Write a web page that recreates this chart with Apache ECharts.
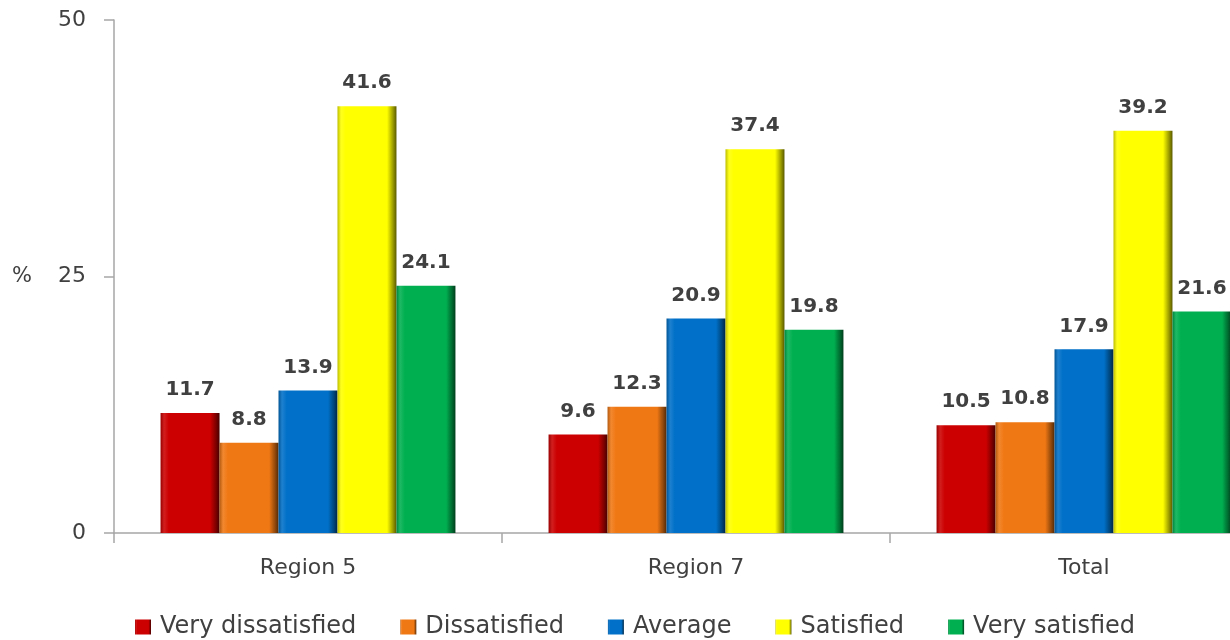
<!DOCTYPE html>
<html>
<head>
<meta charset="utf-8">
<style>
  html, body { margin: 0; padding: 0; background: #ffffff; }
  #chart { width: 1230px; height: 640px; }
</style>
<script src="https://cdn.jsdelivr.net/npm/echarts@6/dist/echarts.min.js"></script>
</head>
<body>
<div id="chart"></div>
<script>
// ---- Data ----
var categories = ['Region 5', 'Region 7', 'Total'];
var seriesNames = ['Very dissatisfied', 'Dissatisfied', 'Average', 'Satisfied', 'Very satisfied'];
var veryDissatisfied = [11.7, 9.6, 10.5];
var dissatisfied = [8.8, 12.3, 10.8];
var average = [13.9, 20.9, 17.9];
var satisfied = [41.6, 37.4, 39.2];
var verySatisfied = [24.1, 19.8, 21.6];
var yTicks = { min: 0, max: 50, interval: 25 };

// ---- Styling ----
var colors = ['#CC0000', '#F07814', '#0070C8', '#FFFF00', '#00B050'];

function shade(hex, f) {
  var n = parseInt(hex.slice(1), 16);
  var r = (n >> 16) & 255, g = (n >> 8) & 255, b = n & 255;
  function adj(v) {
    v = f < 0 ? v * (1 + f) : v + (255 - v) * f;
    return Math.max(0, Math.min(255, Math.round(v)));
  }
  return 'rgb(' + adj(r) + ',' + adj(g) + ',' + adj(b) + ')';
}
function bevel(c) {
  return {
    type: 'linear', x: 0, y: 0, x2: 1, y2: 0,
    colorStops: [
      { offset: 0, color: shade(c, -0.25) },
      { offset: 0.06, color: shade(c, 0.12) },
      { offset: 0.14, color: c },
      { offset: 0.84, color: c },
      { offset: 0.93, color: shade(c, -0.35) },
      { offset: 1, color: shade(c, -0.65) }
    ]
  };
}

var dataSets = [veryDissatisfied, dissatisfied, average, satisfied, verySatisfied];
var textColor = '#404040';
var fontFam = 'DejaVu Sans';

var series = dataSets.map(function (d, i) {
  return {
    name: seriesNames[i],
    type: 'bar',
    data: d,
    barGap: '0%',
    barCategoryGap: '24%',
    itemStyle: { color: bevel(colors[i]) },
    label: {
      show: true,
      position: 'top',
      distance: 13,
      color: textColor,
      fontFamily: fontFam,
      fontWeight: 'bold',
      fontSize: 20,
      formatter: function (p) { return p.value.toFixed(1); }
    }
  };
});

var chart = echarts.init(document.getElementById('chart'), null, { renderer: 'canvas' });
chart.setOption({
  animation: false,
  backgroundColor: '#ffffff',
  color: colors,
  grid: {
    left: 114, right: -48, top: 20, bottom: 107,
    containLabel: false,
    outerBoundsMode: 'none'
  },
  legend: {
    data: seriesNames,
    left: 130,
    top: 610,
    icon: 'rect',
    itemWidth: 16,
    itemHeight: 15,
    itemGap: 44,
    textStyle: { color: textColor, fontFamily: fontFam, fontSize: 24, padding: [0, 0, 0, 4] }
  },
  xAxis: {
    type: 'category',
    data: categories,
    axisLine: { lineStyle: { color: '#a6a6a6', width: 1.5 } },
    axisTick: { show: true, length: 10, lineStyle: { color: '#a6a6a6', width: 1.5 } },
    axisLabel: { color: textColor, fontFamily: fontFam, fontSize: 22, margin: 24 }
  },
  yAxis: {
    type: 'value',
    min: yTicks.min, max: yTicks.max, interval: yTicks.interval,
    name: '%',
    nameLocation: 'middle',
    nameRotate: 0,
    nameGap: 82,
    nameTextStyle: { color: textColor, fontFamily: fontFam, fontSize: 21 },
    axisLine: { show: true, lineStyle: { color: '#a6a6a6', width: 1.5 } },
    axisTick: { show: true, length: 10, lineStyle: { color: '#a6a6a6', width: 1.5 } },
    splitLine: { show: false },
    axisLabel: { color: textColor, fontFamily: fontFam, fontSize: 22, margin: 28 }
  },
  series: series
});
</script>
</body>
</html>
